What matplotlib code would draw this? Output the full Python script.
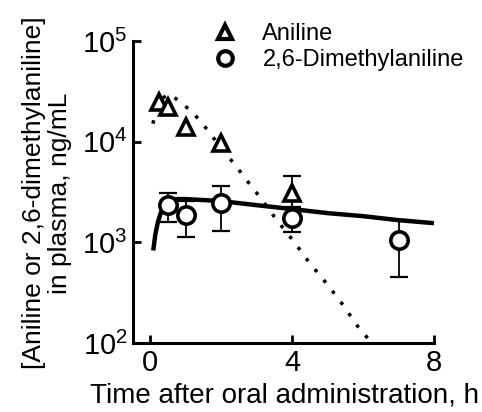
import numpy as np
import matplotlib
matplotlib.use('Agg')
import matplotlib.pyplot as plt
from matplotlib.lines import Line2D
from matplotlib.ticker import LogLocator, LogFormatterMathtext, NullLocator

plt.rcParams['font.family'] = ['Liberation Sans', 'DejaVu Sans']
plt.rcParams['mathtext.fontset'] = 'custom'
plt.rcParams['mathtext.rm'] = 'Liberation Sans'

# 测定值 (mean ± SD)
t_aniline = [0.25, 0.5, 1, 2, 4]
c_aniline = [24600, 22000, 14100, 9800, 3090]
sd_aniline = [0, 0, 0, 0, 1480]

t_dma = [0.5, 1, 2, 4, 7]
c_dma = [2350, 1860, 2460, 1740, 1050]
sd_dma = [750, 740, 1150, 480, 600]

# 拟合曲线
t_aniline_fit = [0.08, 0.2, 0.35, 0.5, 0.6, 0.9, 1.2, 1.45, 1.7, 2.15, 2.4, 2.6,
                 3.1, 3.55, 4.05, 4.5, 5.0, 5.45, 5.9, 6.15]
c_aniline_fit = [15100, 21900, 26900, 29500, 29000, 24000, 19500, 15500, 12000, 7400,
                 5900, 4700, 2800, 1700, 1020, 620, 380, 235, 138, 110]

t_dma_fit = [0.09, 0.15, 0.22, 0.3, 0.4, 0.55, 0.75, 1.0, 1.5, 2, 3, 4, 5, 6, 7, 8]
c_dma_fit = [830, 1200, 1580, 1950, 2290, 2570, 2690, 2690, 2630, 2570, 2340, 2140,
             1950, 1820, 1660, 1550]

fig = plt.figure(figsize=(4.82, 4.12), dpi=100)
ax = fig.add_axes([133 / 482, 1 - 343 / 412, 301 / 482, 302 / 412])

# 拟合曲线
ax.plot(t_aniline_fit, c_aniline_fit, color='black', lw=2.5,
        linestyle=(0, (1, 3)), dash_capstyle='butt', zorder=2)
ax.plot(t_dma_fit, c_dma_fit, color='black', lw=3.2, solid_capstyle='butt', zorder=2)

# 误差棒
for t, c, sd in zip(t_aniline, c_aniline, sd_aniline):
    if sd > 0:
        ax.errorbar(t, c, yerr=sd, fmt='none', ecolor='black', elinewidth=1.3,
                    capsize=6.5, capthick=1.6, zorder=3)
ax.errorbar(t_dma, c_dma, yerr=sd_dma, fmt='none', ecolor='black', elinewidth=1.3,
            capsize=6.5, capthick=1.6, zorder=3)

# 数据点
ax.plot(t_aniline, c_aniline, linestyle='none', marker='^', markersize=12,
        markerfacecolor='white', markeredgecolor='black', markeredgewidth=2.6, zorder=4)
ax.plot(t_dma, c_dma, linestyle='none', marker='o', markersize=12.5,
        markerfacecolor='white', markeredgecolor='black', markeredgewidth=2.6, zorder=4)

ax.set_yscale('log')
ax.set_xlim(-0.48, 8)
ax.set_ylim(100, 100000)
ax.set_xticks([0, 4, 8])
ax.yaxis.set_major_locator(LogLocator(base=10, numticks=10))
ax.yaxis.set_minor_locator(NullLocator())
ax.yaxis.set_major_formatter(LogFormatterMathtext())

for s in ['top', 'right']:
    ax.spines[s].set_visible(False)
for s in ['left', 'bottom']:
    ax.spines[s].set_linewidth(2.2)
ax.tick_params(direction='in', length=5.5, width=2.0, labelsize=21, pad=4)

fig.text(284 / 482, 1 - 396 / 412, 'Time after oral administration, h',
         ha='center', va='center', fontsize=20)
fig.text(47 / 482, 1 - 193 / 412, '[Aniline or 2,6-dimethylaniline]\nin plasma, ng/mL',
         ha='center', va='center', rotation=90, fontsize=19, multialignment='center',
         linespacing=1.1)

# 图例
handles = [
    Line2D([], [], linestyle='none', marker='^', markersize=10.5, markerfacecolor='white',
           markeredgecolor='black', markeredgewidth=3.0),
    Line2D([], [], linestyle='none', marker='o', markersize=10.5, markerfacecolor='white',
           markeredgecolor='black', markeredgewidth=3.0),
]
fig.legend(handles, ['Aniline', '2,6-Dimethylaniline'], loc='center left',
           bbox_to_anchor=(201 / 482, 1 - 47 / 412), frameon=False, fontsize=17,
           handlelength=1.0, handletextpad=1.1, labelspacing=0.15, borderpad=0)

fig.savefig('out.png', dpi=100)
